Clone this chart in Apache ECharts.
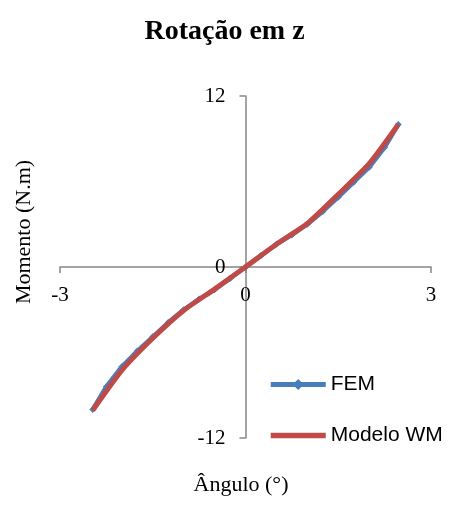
<!DOCTYPE html>
<html>
<head>
    <meta charset="utf-8">
    <title>Rotacao em z</title>
    <script src="https://cdn.jsdelivr.net/npm/echarts@6/dist/echarts.min.js"></script>
</head>
<body style="margin:0">
    <div id="main" style="width: 449px;height:506px;"></div>
    <script type="text/javascript">

    // FEM curve (angle in degrees, moment in N.m)
    var femX = [-2.47, -2.25, -2, -1.75, -1.5, -1.25, -1, -0.75, -0.5, -0.25, 0,
                0.25, 0.5, 0.75, 1, 1.25, 1.5, 1.75, 2, 2.25, 2.47];
    var femY = [-10.0, -8.4, -7.0, -5.9, -4.9, -3.9, -3.0, -2.25, -1.6, -0.8, 0,
                0.8, 1.6, 2.25, 3.0, 3.9, 4.9, 5.95, 7.0, 8.4, 10.0];

    // Modelo WM curve
    var wmX = [-2.47, -2, -1.5, -1, -0.5, 0, 0.5, 1, 1.5, 2, 2.47];
    var wmY = [-10.05, -7.25, -5.0, -3.05, -1.55, 0, 1.6, 3.05, 5.1, 7.25, 10.0];

    var serif = '"Liberation Serif", "Times New Roman", serif';
    var sans = '"Liberation Sans", Arial, sans-serif';
    var axisGray = '#868686';

    // plot box, axes are shifted into the middle with offset
    var gLeft = 60, gRight = 18, gTop = 96, gBottom = 68;
    var gW = 449 - gLeft - gRight, gH = 506 - gTop - gBottom;

    function pairs(xs, ys) {
        var out = [];
        for (var i = 0; i < xs.length; i++) {
            out.push([xs[i], ys[i]]);
        }
        return out;
    }

    var myChart = echarts.init(document.getElementById('main'));

    var option = {
        animation: false,
        title: {
            text: 'Rotação em z',
            left: 'center',
            top: 13,
            textStyle: { fontFamily: serif, fontSize: 28, fontWeight: 'bold', color: '#000' }
        },
        legend: {
            orient: 'vertical',
            left: 263,
            top: 369,
            itemWidth: 55,
            itemHeight: 14,
            itemGap: 30,
            textStyle: { fontFamily: sans, fontSize: 21, color: '#000' },
            data: [
                { name: 'FEM', lineStyle: { width: 5 } },
                { name: 'Modelo WM', lineStyle: { width: 5.5 }, itemStyle: { opacity: 0 } }
            ]
        },
        grid: { left: gLeft, right: gRight, top: gTop, bottom: gBottom, containLabel: false },
        xAxis: {
            type: 'value',
            min: -3, max: 3, interval: 3,
            offset: -gH / 2,
            axisLine: { onZero: false, lineStyle: { color: axisGray, width: 1.5 } },
            axisTick: { show: true, inside: false, length: 6, lineStyle: { color: axisGray, width: 1.5 } },
            axisLabel: { margin: 18, fontFamily: serif, fontSize: 21, color: '#000' },
            splitLine: { show: false }
        },
        yAxis: {
            type: 'value',
            min: -12, max: 12, interval: 12,
            offset: -gW / 2,
            axisLine: { onZero: false, lineStyle: { color: axisGray, width: 1.5 } },
            axisTick: { show: true, inside: false, length: 6, lineStyle: { color: axisGray, width: 1.5 } },
            axisLabel: { margin: 20, fontFamily: serif, fontSize: 21, color: '#000' },
            splitLine: { show: false }
        },
        graphic: [
            {
                type: 'text',
                x: 24, y: 232,
                rotation: Math.PI / 2,
                style: {
                    text: 'Momento (N.m)',
                    fontFamily: serif, fontSize: 22, fill: '#000',
                    align: 'center', verticalAlign: 'middle'
                }
            },
            {
                type: 'text',
                x: 241, y: 485,
                style: {
                    text: 'Ângulo (°)',
                    fontFamily: serif, fontSize: 22, fill: '#000',
                    align: 'center', verticalAlign: 'middle'
                }
            }
        ],
        series: [
            {
                name: 'FEM',
                type: 'line',
                data: pairs(femX, femY),
                symbol: 'diamond',
                symbolSize: 7,
                showSymbol: true,
                color: '#4A7EBB',
                itemStyle: { color: '#4A7EBB' },
                lineStyle: { color: '#4A7EBB', width: 4.5 },
                z: 2
            },
            {
                name: 'Modelo WM',
                type: 'line',
                data: pairs(wmX, wmY),
                symbol: 'none',
                smooth: 0.2,
                color: '#BE4B48',
                itemStyle: { color: '#BE4B48' },
                lineStyle: { color: '#BE4B48', width: 5 },
                z: 3
            }
        ]
    };

    myChart.setOption(option);

    </script>
</body>
</html>
